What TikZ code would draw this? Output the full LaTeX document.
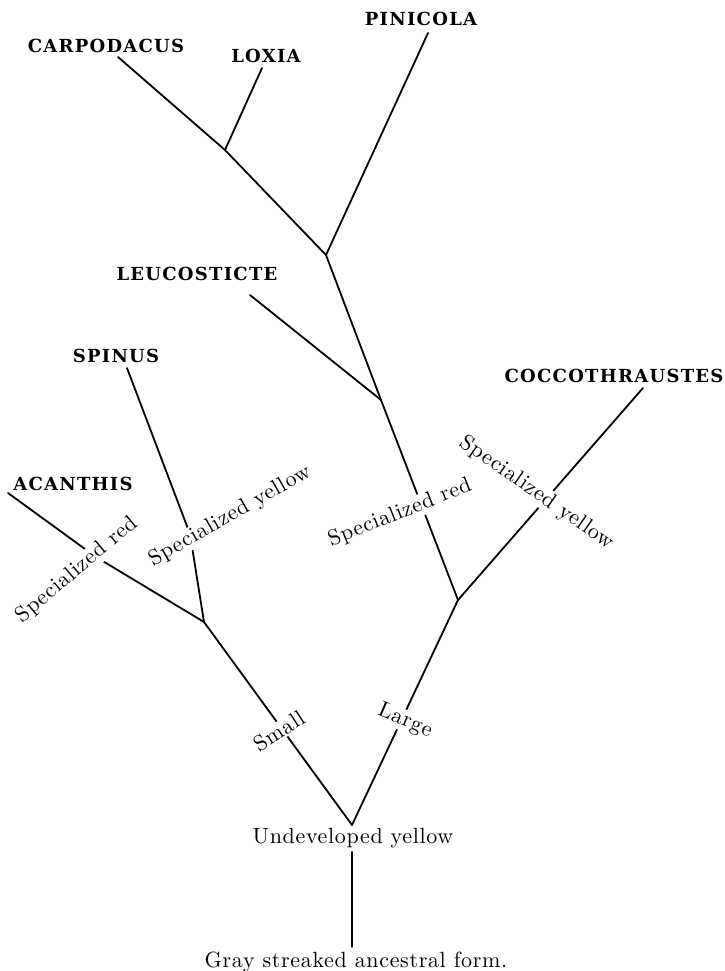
\documentclass[tikz,border=0pt]{standalone}
\usepackage{fontspec}
\newfontfamily\capfont[LetterSpace=7]{DejaVu Serif}
\newfontfamily\lblfont{lmroman10-regular}[Extension=.otf, Ligatures=TeX, LetterSpace=3]
\begin{document}
\begin{tikzpicture}[x=1pt,y=-1pt,
  genus/.style={font=\capfont\bfseries\fontsize{18}{20}\selectfont, inner sep=0pt, anchor=base},
  lbl/.style={font=\lblfont\fontsize{22}{26}\selectfont, fill=white, inner sep=1pt},
  plain/.style={font=\lblfont\fontsize{22}{26}\selectfont, inner sep=0pt, anchor=base},
  branch/.style={line width=1.8pt, line cap=round, line join=round}]
\useasboundingbox (0,0) rectangle (724,971);
% junctions
\coordinate (root) at (352,825);
\coordinate (small) at (204,622);
\coordinate (large) at (458,600);
\coordinate (leuc) at (381,400);
\coordinate (pin) at (326,255);
\coordinate (lox) at (225,150);
% tips
\coordinate (tCarp) at (118,57);
\coordinate (tLox) at (262,68);
\coordinate (tPin) at (428,33);
\coordinate (tLeuc) at (250,295);
\coordinate (tSpin) at (127,368);
\coordinate (bSpin) at (190,534);
\coordinate (tAcan) at (8,493);
\coordinate (bAcan) at (96,557);
\coordinate (tCocc) at (643,388);
\coordinate (stemTop) at (352,852);
\coordinate (stemBot) at (352,947);
% genus labels
\node[genus] (carp) at (106,53) {CARPODACUS};
\node[genus] (loxia) at (266,63) {LOXIA};
\node[genus] (pini) at (421,26) {PINICOLA};
\node[genus] (leuco) at (197,280) {LEUCOSTICTE};
\node[genus] (spin) at (116,362) {SPINUS};
\node[genus] (acan) at (73,490) {ACANTHIS};
\node[genus] (cocc) at (614,382) {COCCOTHRAUSTES};
% branches
\draw[branch] (tCarp) -- (lox) -- (pin) -- (leuc) -- (large) -- (root) -- (small);
\draw[branch] (tLox) -- (lox);
\draw[branch] (tPin) -- (pin);
\draw[branch] (tLeuc) -- (leuc);
\draw[branch] (tCocc) -- (large);
\draw[branch] (tSpin) -- (bSpin) -- (small);
\draw[branch] (tAcan) -- (bAcan) -- (small);
\draw[branch] (stemTop) -- (stemBot);
% rotated labels
\node[lbl, rotate=33] (lSmall) at (279,731) {Small};
\node[lbl, rotate=-23] (lLarge) at (405,721) {Large};
\node[lbl, rotate=21.6] (lRedR) at (400,513) {Specialized red};
\node[lbl, rotate=-35] (lYelR) at (537,493) {Specialized yellow};
\node[lbl, rotate=29.7] (lYelL) at (230,516) {Specialized yellow};
\node[lbl, rotate=40] (lRedL) at (77,570) {Specialized red};
% bottom labels
\node[plain] (undev) at (353,843) {Undeveloped yellow};
\node[plain] (gray) at (356,967) {Gray streaked ancestral form.};
\end{tikzpicture}
\end{document}
